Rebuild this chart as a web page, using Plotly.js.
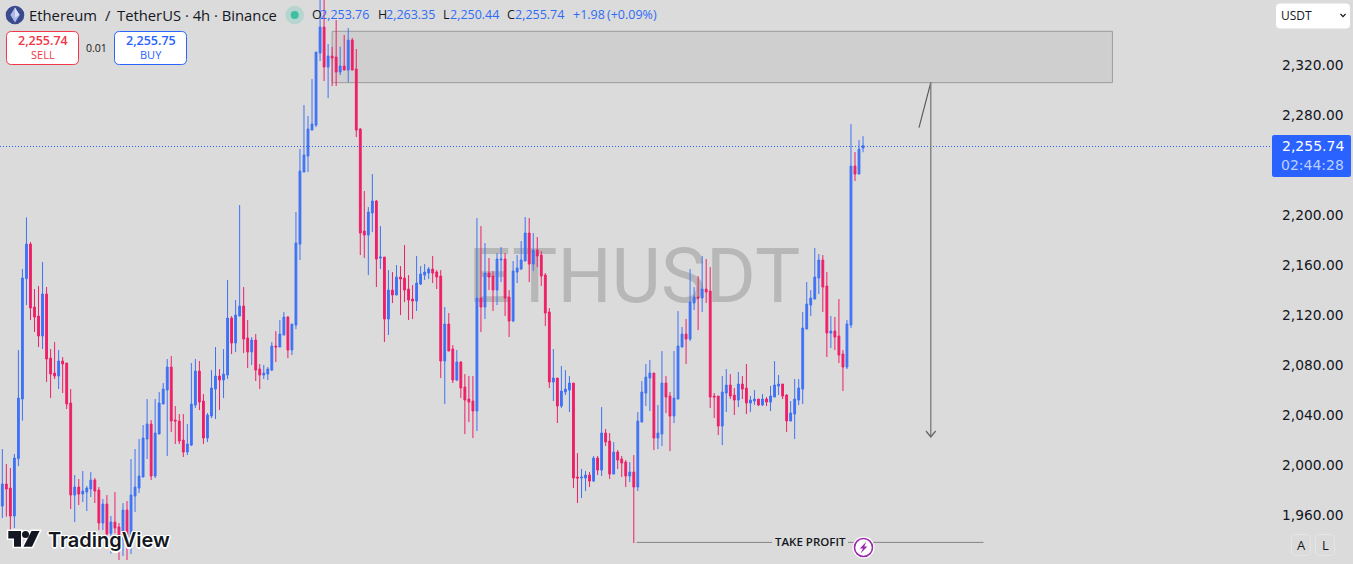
<!DOCTYPE html>
<html><head><meta charset="utf-8">
<style>html,body{margin:0;padding:0;background:#dbdbdb;overflow:hidden}#c{width:1353px;height:564px}</style>
<script src="https://cdn.plot.ly/plotly-3.0.1.min.js"></script></head>
<body><div id="c"></div>
<script>
const opens=[1967.4,1985,1981.8,1959.4,2005.3,2053,2149.3,2177,2126.6,2119.4,
2103.4,2137,2085.8,2073.8,2071.4,2083.4,2081.8,2049.8,1976.2,1982.6,
1977,1978.6,1981,1988.2,1980.2,1953.8,1969,1945.5,1954.6,1950.6,
1940.2,1964.2,1937.5,1975.4,1981.8,1990.6,2021,2033,1991.4,2025,
2049,2060.2,2078.6,2036.2,2035.4,2020.2,2010.6,2016.2,2048.2,2075.4,
2051.4,2021.8,2039.4,2061,2071.4,2068.2,2072.2,2117.8,2097.8,2119.4,
2127.4,2101.8,2090.6,2100.2,2077,2072.2,2073,2076.2,2095.4,2094.6,
2104.2,2118.6,2092.2,2112.2,2177,2234.6,2247.4,2268.2,2272.2,2329.8,
2350.6,2318.6,2327.4,2326.6,2314.6,2319.4,2316.2,2340.2,2317,2269,
2187.4,2184.2,2201.8,2211.4,2165.8,2166.6,2117,2140.2,2136.2,2150.6,
2149.8,2141,2133,2131.4,2145,2152.2,2153.8,2157,2154.6,2151.4,
2083.4,2113,2093,2068.2,2082.6,2062.6,2053,2051.4,2043.4,2133.8,
2126.6,2153.8,2151.4,2140.2,2164.2,2165,2134.6,2115.4,2154.6,2157,
2163.4,2185.8,2161,2172.2,2168.2,2152.2,2122.6,2066.6,2069.8,2047.4,
2058.6,2060.2,2065.8,1990.6,1989.8,1989.8,1992.2,1987.4,2005.8,1996.2,
2025.8,2019.4,1993,2010.6,2005,2002.6,1991.4,1994.6,1982.6,2034.6,
2057.8,2069.8,2073.8,2021.8,2025,2065.8,2055.4,2039.4,2053,2094.6,
2105,2101,2129.8,2134.6,2133.8,2141,2139.4,2055.4,2055.4,2031.4,
2057.8,2064.2,2056.2,2052.2,2065,2061.8,2049.8,2051.4,2053,2048.2,
2053,2050.6,2054.6,2063.4,2065,2056.2,2035.4,2041,2052.2,2061,
2109,2128.2,2133,2149.8,2164.2,2143.4,2105.8,2107.4,2103.4,2089,
2078.6,2112.2,2239.4,2233,2253.76];
const closes=[1985,1981,1959.4,2005.8,2053.8,2149.8,2177,2125.8,2118.6,2103.4,
2137,2085,2073,2071.4,2083.4,2081,2049,1976.2,1982.6,1977,
1979.4,1981.8,1988.2,1979.4,1953.8,1969,1945,1954.6,1949.8,1940.2,
1964.2,1940.2,1976.2,1982.6,1991.4,2021.8,2033,1991.4,2025.8,2049.8,
2061,2078.6,2035.4,2035.4,2019.4,2010.6,2017,2049,2075.4,2050.6,
2021.8,2040.2,2061.8,2071.4,2068.2,2073,2117.8,2097.8,2120.2,2127.4,
2101,2090.6,2100.2,2076.2,2072.2,2073.8,2077,2095.4,2094.6,2105,
2118.6,2092.2,2113,2177.8,2235.4,2248.2,2269,2273,2330.6,2350.6,
2318.6,2327.4,2325.8,2314.6,2319.4,2316.2,2340.2,2316.2,2268.2,2185.8,
2184.2,2202.6,2211.4,2165,2166.6,2117,2140.2,2136.2,2150.6,2149,
2140.2,2132.2,2131.4,2145.8,2153,2154.6,2157,2153.8,2150.6,2083.4,
2113,2091.4,2068.2,2082.6,2061.8,2052.2,2050.6,2043.4,2133.8,2126.6,
2153.8,2150.6,2140.2,2165,2165,2133.8,2115.4,2155.4,2157.8,2164.2,
2185.8,2161,2172.2,2167.4,2151.4,2121.8,2066.6,2069.8,2047.4,2059.4,
2061,2065.8,1989.8,1989.8,1990.6,1992.2,1987.4,2005.8,1996.2,2025.8,
2018.6,1993,2010.6,2004.2,2001.8,1991.4,1994.6,1982.6,2035.4,2058.6,
2070.6,2073.8,2021.8,2025.8,2065.8,2054.6,2039.4,2053.8,2095.4,2105,
2101,2130.6,2134.6,2133.8,2141,2138.6,2054.6,2054.6,2031.4,2058.6,
2064.2,2055.4,2052.2,2065,2061,2049.8,2052.2,2053,2048.2,2053,
2050.6,2055.4,2064.2,2065,2055.4,2035.4,2041.8,2053,2061.8,2109.8,
2129,2133.8,2150.6,2164.2,2142.6,2105.8,2107.4,2102.6,2088.2,2078.6,
2113,2239.4,2233,2253,2255.74];
const highs=[2013,2001,1997.8,2009,2092.2,2157,2198.3,2178.6,2141,2143.4,
2162.6,2142.6,2093,2098.6,2092.2,2086.6,2081.8,2061,1992.2,1989,
1995.4,1983.4,1994.6,1989.8,1982.6,1973,1976.2,1959.4,1978.6,1953.8,
1969.8,1971.4,2005,2013,2021,2032.2,2053,2036.2,2053,2058.6,
2065.8,2085,2087.4,2047.4,2041,2041,2033,2081.8,2085,2083.4,
2057,2041.8,2076.2,2094.6,2077,2093,2148.2,2119.4,2132.2,2208.2,
2142.6,2116.2,2102.6,2105,2081,2080.2,2078.6,2098.6,2107.4,2116.2,
2122.6,2119.4,2113,2202.6,2253,2288.2,2279.4,2309,2330.6,2380,
2380,2337,2334.6,2356.2,2334.9,2344.2,2349.8,2341.8,2333,2269.8,
2219.4,2206.6,2233,2212.2,2191.4,2166.6,2156.2,2154.6,2160.2,2159.4,
2176.2,2152.2,2144.2,2167.4,2159.4,2161,2158.6,2167.4,2156.2,2156.2,
2126.6,2121.8,2096.2,2092.2,2083.4,2073,2071.4,2071.4,2197.8,2191.4,
2177.8,2165.8,2155.4,2169.8,2174.6,2169.8,2140.2,2163.4,2168.2,2179.4,
2198.6,2197.8,2185.8,2182.6,2171.4,2153.8,2125.8,2093,2069.8,2079.4,
2076.2,2071.4,2065.8,2009.8,1997,1995.4,1994.6,2007.4,2007.4,2046.6,
2029,2025.8,2018.6,2012.2,2007.4,2004.2,2002.6,2008.2,2042.6,2067.4,
2081,2084.2,2073.8,2048.2,2091.4,2071.4,2058.6,2091.4,2123.4,2110.6,
2117,2157,2142.6,2151.4,2167.4,2165,2158.6,2057.8,2055.4,2071.4,
2077,2073,2061.8,2074.6,2071.4,2081,2055.4,2060.2,2053,2057,
2054.6,2063.4,2083.4,2072.2,2065,2057,2051.4,2069,2069,2122.6,
2146.6,2140.2,2173.8,2169,2168.2,2154.6,2119.4,2118.6,2133,2092.2,
2116.2,2273,2250.6,2260.2,2263.35];
const lows=[1957.8,1958.9,1948.2,1949.8,1999.4,2035.7,2128.2,2116.2,2106.6,2094.6,
2093,2066.6,2053.8,2069,2061,2057.8,2045,1965,1954.6,1968.2,
1970.6,1963.4,1974.6,1969.8,1948.2,1948.2,1940.2,1929.5,1945.5,1924.2,
1927.4,1924.2,1929,1962.6,1977.8,1990.6,2005,1988.2,1989.8,2025,
2049,2007.4,2026.6,2017,2017,2006.6,2008.2,2015.4,2045.8,2044.2,
2017,2018.6,2037.8,2037,2044.2,2053.8,2069,2089,2090.6,2119.4,
2089.8,2077.8,2080.2,2067.4,2061,2069,2068.2,2075.4,2082.6,2094.6,
2104.2,2085.8,2088.2,2109,2164.2,2234.6,2234.6,2268.2,2270.6,2323.4,
2307.4,2293.8,2303.4,2303.4,2312.2,2316.2,2306.6,2316.2,2262.6,2168.2,
2165.8,2152.2,2186.6,2142.6,2157,2098.6,2104.2,2129.8,2136.2,2120.2,
2130.6,2116.2,2117,2123.4,2144.2,2148.2,2149,2145.8,2141,2069.8,
2049,2091.4,2065.8,2067.4,2053.8,2025,2034.6,2021.8,2027.4,2106.6,
2117,2140.2,2123.4,2128.2,2146.6,2119.4,2102.6,2114.6,2145.8,2156.2,
2163.4,2146.6,2155.4,2158.6,2143.4,2111.4,2061.8,2051.4,2033.8,2045.8,
2056.2,2042.6,1981.8,1969.8,1973.8,1979.4,1982.6,1986.6,1992.2,1991.4,
2015.4,1989,1993,1997,1990.6,1982.6,1986.6,1937.8,1979.4,2034.6,
2047.4,2043.4,2012.2,2013,2015.4,2041.8,2011.4,2033.8,2053,2094.6,
2081,2099.4,2124.2,2108.2,2122.6,2129.8,2045.8,2037.8,2024.2,2016.2,
2042.6,2053,2040.2,2046.6,2053,2041,2042.6,2048.2,2047.4,2047.4,
2047.4,2043.4,2054.6,2056.2,2053,2026.6,2035.4,2021,2048.2,2049,
2109,2119.4,2133,2137,2122.6,2086.6,2093.8,2092.2,2081.8,2059.4,
2077,2109.8,2227.4,2233,2250.44];
const tickPrices=[1960,2000,2040,2080,2120,2160,2200,2240,2280,2320];
const zoneTop=2347.2, zoneBottom=2306.1, zoneStart=82, zoneEnd=276;

const BG='#dbdbdb', BLUE='#3f72f5', RED='#ef1f68', INK='#131722';
const PW=1272, PH=564;
const X=p=>p/PW, Y=p=>1-p/PH;
const xr=[-0.579,315.68], yr=[1921.04,2372.24];
const idx=closes.map((_,i)=>i);
const UI='"Open Sans"';

const shapes=[], ann=[];
function P(pts,close=true){return pts.map((q,i)=>(i?'L':'M')+X(q[0]).toFixed(6)+' '+Y(q[1]).toFixed(6)).join(' ')+(close?' Z':'');}
function path(pts,o={}){shapes.push({type:'path',xref:'paper',yref:'paper',path:P(pts,o.close!==false),fillcolor:o.fill||'rgba(0,0,0,0)',line:{color:o.color||'rgba(0,0,0,0)',width:o.width===undefined?1:o.width},layer:'above'});}
function circle(cx,cy,r,o={}){shapes.push({type:'circle',xref:'paper',yref:'paper',x0:X(cx-r),x1:X(cx+r),y0:Y(cy+r),y1:Y(cy-r),fillcolor:o.fill||'rgba(0,0,0,0)',line:{color:o.color||'rgba(0,0,0,0)',width:o.width||0},layer:'above'});}
function rrect(x0,y0,x1,y1,r,o){
 const f=(a,b)=>X(a).toFixed(6)+' '+Y(b).toFixed(6);
 shapes.push({type:'path',xref:'paper',yref:'paper',layer:'above',fillcolor:o.fill||'rgba(0,0,0,0)',line:{color:o.color||'rgba(0,0,0,0)',width:o.width===undefined?1:o.width},
 path:`M${f(x0+r,y0)} L${f(x1-r,y0)} Q${f(x1,y0)} ${f(x1,y0+r)} L${f(x1,y1-r)} Q${f(x1,y1)} ${f(x1-r,y1)} L${f(x0+r,y1)} Q${f(x0,y1)} ${f(x0,y1-r)} L${f(x0,y0+r)} Q${f(x0,y0)} ${f(x0+r,y0)} Z`});
}
function txt(x,y,text,size,color,anchor='left',o={}){
 ann.push({xref:'paper',yref:'paper',x:X(x),y:Y(y),text,showarrow:false,xanchor:anchor,yanchor:'middle',borderpad:0,
 font:Object.assign({family:o.family||UI,size,color},o.weight?{weight:o.weight}:{},o.shadow?{shadow:o.shadow}:{}),bgcolor:o.bg});
}

// zone rectangle
shapes.push({type:'rect',xref:'x2',yref:'y2',x0:zoneStart,x1:zoneEnd,y0:zoneBottom,y1:zoneTop,fillcolor:'rgba(110,110,110,0.10)',line:{color:'#9c9c9c',width:1},layer:'below'});
// last price line (pixel row of the last close)
path([[0,146.5],[1272,146.5]],{close:false,color:'#2962ff',width:1});
shapes[shapes.length-1].line.dash='1px,2px';

// projection arrow
path([[919,127.7],[930.8,82.5]],{close:false,color:'#555',width:1.1});
path([[930.8,82.5],[930.8,437]],{close:false,color:'#7a7a7a',width:1.3});
path([[926,431],[930.8,437],[935.6,431]],{close:false,color:'#666',width:1.3});

// take profit
path([[636.5,542.4],[772,542.4]],{close:false,color:'#858585',width:1});
path([[848,542.4],[983.5,542.4]],{close:false,color:'#858585',width:1});
txt(810,541.5,'TAKE PROFIT',11.5,INK,'center',{bg:BG,weight:600});
circle(863.5,547.5,11,{fill:'#ffffff'});
circle(863.5,547.5,9,{fill:'#ffffff',color:'#9c27b0',width:1.6});
path([[866.5,541.5],[859.8,548.4],[863,548.4],[860.5,553.5],[867.4,546.6],[864.2,546.6]],{fill:'#9c27b0',width:0});

// header
circle(15,15,9.3,{fill:'#3b4a8f'});
path([[15,7.5],[19.6,15],[15,22.5],[10.4,15]],{fill:'#aeb9e8',width:0});
path([[15,7.5],[19.6,15],[15,17.5]],{fill:'#d7ddf6',width:0});
txt(27.5,15,'Ethereum',14.8,INK);
txt(103.5,15,'/',14.8,INK);
txt(115.5,15,'TetherUS · 4h · Binance',14.8,INK);
circle(294.7,15,9.3,{fill:'#b6d5cf'});
circle(294.7,15,4,{fill:'#3dbfa2'});
const HB='#2f6bf6';
txt(310.5,15,'O',12.5,INK);
txt(319.3,15,'2,253.76',12.5,HB);
txt(377,15,'H',12.5,INK);
txt(385,15,'2,263.35',12.5,HB);
txt(441.5,15,'L',12.5,INK);
txt(449,15,'2,250.44',12.5,HB);
txt(505.5,15,'C',12.5,INK);
txt(514,15,'2,255.74',12.5,HB);
txt(571.5,15,'+1.98',12.5,HB);
txt(606,15,'(+0.09%)',12.5,HB);

// sell / buy
rrect(6.5,31.5,78.5,64.5,5,{fill:'#fff',color:'#f23645',width:1});
rrect(114.5,31.5,186.5,64.5,5,{fill:'#fff',color:'#2962ff',width:1});
txt(42.5,41,'2,255.74',12.5,'#f23645','center',{weight:600});
txt(42.5,55,'SELL',11,'#f23645','center');
txt(150.5,41,'2,255.75',12.5,'#2962ff','center',{weight:600});
txt(150.5,55,'BUY',11,'#2962ff','center');
txt(96.5,47.5,'0.01',10.5,INK,'center');

// right panel widgets
rrect(1276,3.5,1350,28.5,4,{fill:'#fff',width:0});
txt(1279.5,15.5,'USDT',12,INK);
path([[1340.5,14],[1343,16.7],[1345.5,14]],{close:false,color:INK,width:1.2});
rrect(1272,135,1351,177,2,{fill:'#2962ff',width:0});
txt(1344.5,146,'2,255.74',14,'#fff','right',{family:'DejaVu Sans'});
txt(1344.5,164.5,'02:44:28',14,'#bcd0ff','right',{family:'DejaVu Sans'});
rrect(1291.5,534.5,1310.5,555.5,4,{color:'#e6e6e6',width:1});
rrect(1315.5,534.5,1334.5,555.5,4,{color:'#e6e6e6',width:1});
txt(1301,545,'A',13,INK,'center');
txt(1325,545,'L',13,INK,'center');

// logo
const LG=[[8.3,531],[21,531],[21,546.7],[14,546.7],[14,538.5],[8.3,538.5]];
const LS=[[31.5,531],[39.5,531],[32,546.7],[23.5,546.7]];
path(LG,{color:'#fff',width:3,fill:'#fff'});path(LS,{color:'#fff',width:3,fill:'#fff'});circle(25.5,534.5,4.8,{fill:'#fff'});
path(LG,{fill:'#131722',width:0});path(LS,{fill:'#131722',width:0});circle(25.5,534.5,3.5,{fill:'#131722'});
const halo='1.5px 0 #fff,-1.5px 0 #fff,0 1.5px #fff,0 -1.5px #fff,1px 1px #fff,-1px -1px #fff,1px -1px #fff,-1px 1px #fff';
txt(46.5,539.5,'TradingView',20,'#131722','left',{family:'Inter',weight:600,shadow:halo});

const watermark={type:'scatter',mode:'text',x:[157.1],y:[2145.6],text:['ETHUSDT'],textposition:'middle center',
 textfont:{family:'Roboto',size:76,color:'#b7b7b7'},hoverinfo:'skip',xaxis:'x',yaxis:'y',showlegend:false};
const candles={type:'candlestick',x:idx,open:opens,high:highs,low:lows,close:closes,xaxis:'x2',yaxis:'y2',whiskerwidth:0,
 increasing:{line:{color:BLUE,width:1},fillcolor:BLUE},decreasing:{line:{color:RED,width:1},fillcolor:RED},showlegend:false,hoverinfo:'skip'};

const layout={width:1353,height:564,margin:{l:0,r:81,t:0,b:0,pad:0},paper_bgcolor:BG,plot_bgcolor:BG,showlegend:false,
 boxgap:0.55,boxgroupgap:0,
 xaxis:{range:xr,visible:false,fixedrange:true,rangeslider:{visible:false}},
 yaxis:{range:yr,side:'right',tickvals:tickPrices,tickformat:',.2f',ticks:'',ticklen:0,showgrid:false,zeroline:false,showline:false,
  ticklabelstandoff:9,tickfont:{family:'DejaVu Sans',size:13.8,color:INK},fixedrange:true},
 xaxis2:{range:xr,overlaying:'x',visible:false,fixedrange:true,rangeslider:{visible:false}},
 yaxis2:{range:yr,overlaying:'y',visible:false,fixedrange:true},
 shapes,annotations:ann};
Plotly.newPlot('c',[watermark,candles],layout,{staticPlot:true,displayModeBar:false});
</script></body></html>
